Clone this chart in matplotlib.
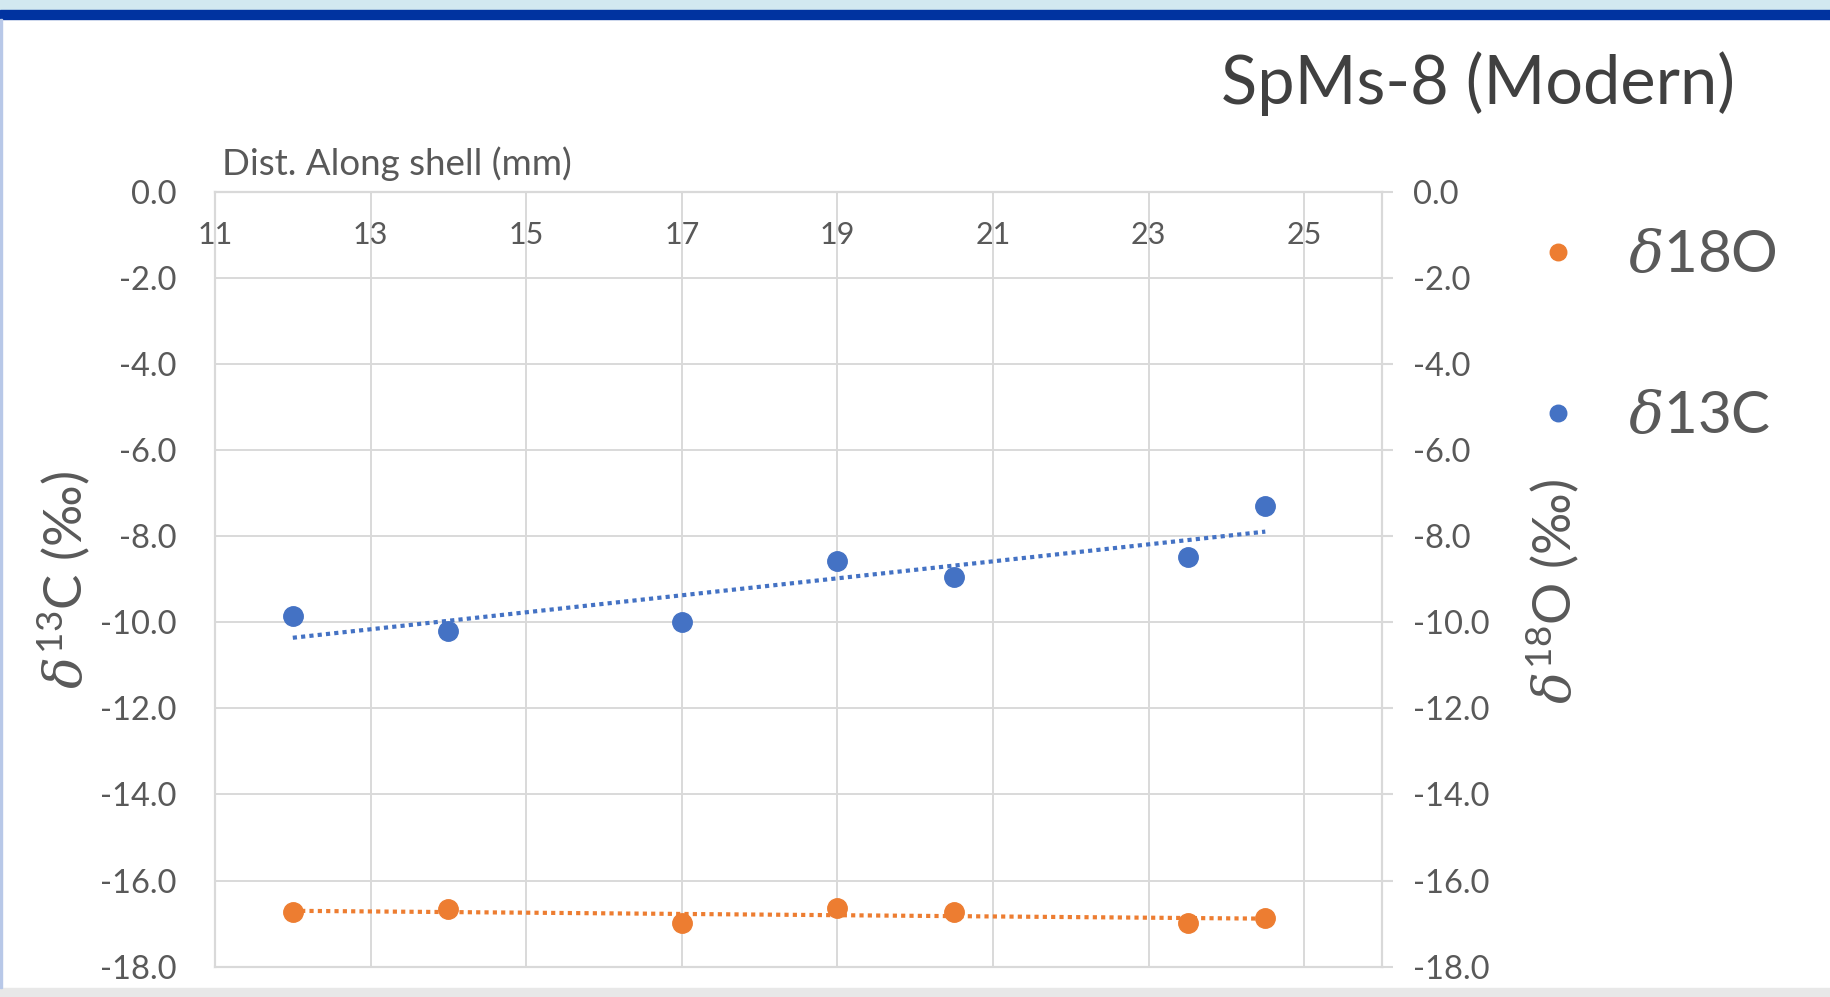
import matplotlib
matplotlib.use("Agg")
import matplotlib.pyplot as plt
from matplotlib.patches import Rectangle
import numpy as np

# distance along shell (mm) and isotope values (per mil)
dist_mm = [12.0, 14.0, 17.0, 19.0, 20.5, 23.5, 24.5]
d13c = [-9.85, -10.20, -9.99, -8.58, -8.96, -8.48, -7.29]
d18o = [-16.72, -16.67, -16.99, -16.64, -16.72, -16.99, -16.86]

x_ticks = [11, 13, 15, 17, 19, 21, 23, 25]
y_ticks = [0, -2, -4, -6, -8, -10, -12, -14, -16, -18]

BLUE = "#4472C4"
ORANGE = "#ED7D31"
GRID = "#d9d9d9"
TXT = "#595959"

plt.rcParams["font.family"] = ["Lato", "DejaVu Sans"]
plt.rcParams["mathtext.fontset"] = "custom"
plt.rcParams["mathtext.rm"] = "Lato"
plt.rcParams["mathtext.it"] = "DejaVu Serif:italic"

W, H = 1830, 997
fig = plt.figure(figsize=(W / 100, H / 100), dpi=100)
fig.patch.set_facecolor("white")

# frame decorations of the screenshot
fig.patches.append(Rectangle((0, 1 - 10 / H), 1, 10 / H, transform=fig.transFigure, color="#d2e8f0", zorder=0))
fig.patches.append(Rectangle((0, 1 - 19 / H), 1, 9 / H, transform=fig.transFigure, color="#0033a0", zorder=0))
fig.patches.append(Rectangle((0, 0), 1, 9 / H, transform=fig.transFigure, color="#e8e8e8", zorder=0))
fig.patches.append(Rectangle((0, 9 / H), 2 / W, 1 - 28 / H, transform=fig.transFigure, color="#b8c8e8", zorder=0))

left, right, top, bottom = 215, 1382, 191.7, 966.7
ax = fig.add_axes([left / W, 1 - bottom / H, (right - left) / W, (bottom - top) / H])
ax2 = ax.twinx()

for a in (ax, ax2):
    a.set_ylim(-18, 0)
    a.set_yticks(y_ticks)
    a.set_yticklabels([f"{v:.1f}" for v in y_ticks])
    for s in a.spines.values():
        s.set_color(GRID)
        s.set_linewidth(1.5)
ax.spines["top"].set_color("#bfbfbf")

ax.set_xlim(11, 26)
ax.set_xticks(x_ticks)
ax.set_xticklabels([str(v) for v in x_ticks])
ax.grid(True, color=GRID, linewidth=1.4)
ax.set_axisbelow(True)

ax.tick_params(axis="x", bottom=False, top=False, labelbottom=False, labeltop=True,
               pad=-45, labelsize=22, labelcolor=TXT)
ax.tick_params(axis="y", left=False, pad=24, labelsize=23.5, labelcolor=TXT)
ax2.tick_params(axis="y", right=True, length=8, width=1.5, color=GRID, pad=14,
                labelsize=23.5, labelcolor=TXT)

# data with linear trendlines
l13, = ax.plot(dist_mm, d13c, "o", color=BLUE, markersize=14, zorder=3)
l18, = ax2.plot(dist_mm, d18o, "o", color=ORANGE, markersize=14, zorder=3)
xs = np.array([min(dist_mm), max(dist_mm)])
for a, vals, c in ((ax, d13c, BLUE), (ax2, d18o, ORANGE)):
    k, b = np.polyfit(dist_mm, vals, 1)
    a.plot(xs, k * xs + b, linestyle=(0, (1, 1)), color=c, linewidth=3.0, zorder=2)

fig.text(1735 / W, 1 - 84 / H, "SpMs-8 (Modern)", ha="right", va="center",
         fontsize=48, color="#404040")
fig.text(222 / W, 1 - 164 / H, "Dist. Along shell (mm)", ha="left", va="center",
         fontsize=26.5, color=TXT)
fig.text(64 / W, 1 - 580 / H, r"$\delta^{13}$C (‰)", rotation=90, ha="center", va="center",
         fontsize=38, color=TXT)
fig.text(1553 / W, 1 - 592 / H, r"$\delta^{18}$O (‰)", rotation=90, ha="center", va="center",
         fontsize=38, color=TXT)

leg = fig.legend([l18, l13], [r"$\delta$18O", r"$\delta$13C"], loc="upper left",
                 bbox_to_anchor=(1500 / W, 1 - 200 / H), frameon=False, fontsize=42,
                 labelcolor=TXT, handlelength=1.0, handletextpad=0.7, labelspacing=1.85,
                 markerscale=0.85, borderpad=0)

fig.savefig("out.png", dpi=100)
